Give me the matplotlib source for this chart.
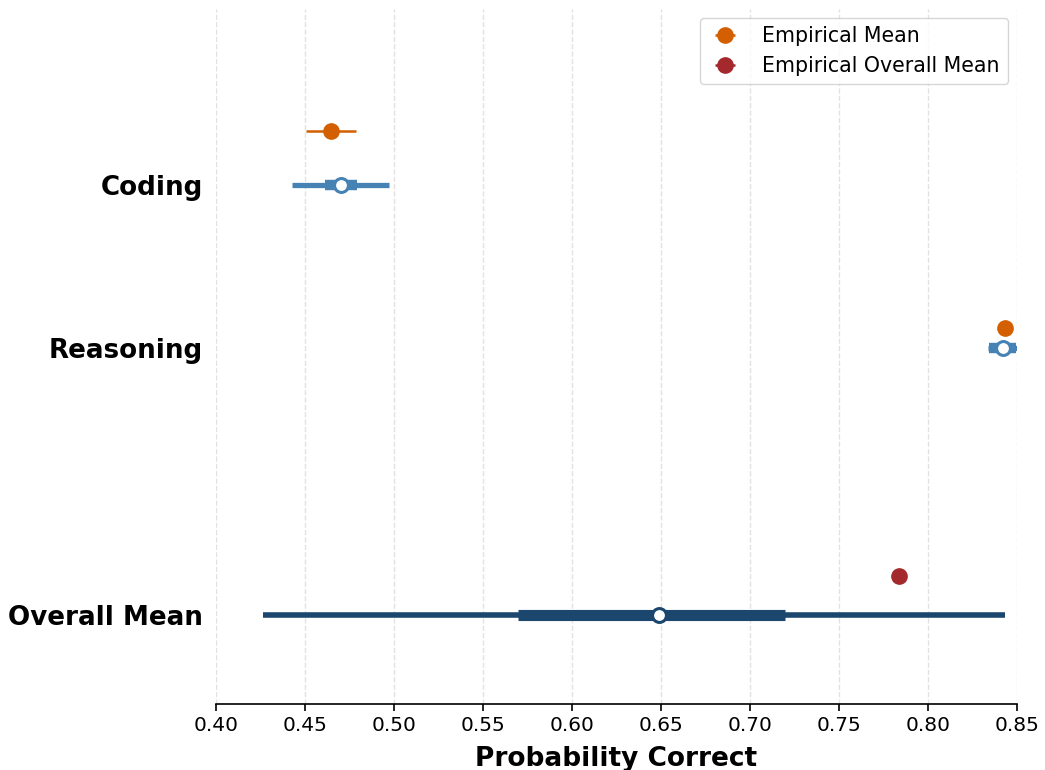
import matplotlib
matplotlib.use("Agg")
import matplotlib.pyplot as plt

# data
categories = ["Coding", "Reasoning"]
emp_mean = [0.4646, 0.8433]
emp_lo = [0.4506, 0.8433]
emp_hi = [0.4787, 0.8433]
post_mean = [0.4702, 0.8421]
post_q25 = [0.4612, 0.8345]
post_q75 = [0.4792, 0.8495]
post_lo = [0.4427, 0.8337]
post_hi = [0.4972, 0.8510]

overall_label = "Overall Mean"
overall_emp = 0.7837
overall_mean = 0.6489
overall_q25 = 0.5697
overall_q75 = 0.7197
overall_lo = 0.4264
overall_hi = 0.8433

row_y = [0.0, 1.0]
emp_y = [-0.331, 0.877]
overall_y = 2.638
overall_emp_y = 2.399

orange = "#d35f00"
red = "#a3292c"
blue = "#4682b4"
navy = "#1b476e"

fig = plt.figure(figsize=(10.45, 7.7), dpi=100)
ax = fig.add_axes([216 / 1045, 1 - 704 / 770, (1017 - 216) / 1045, (704 - 9) / 770])

for i in range(len(categories)):
    y = row_y[i]
    ax.plot([post_lo[i], post_hi[i]], [y, y], color=blue, lw=3.8, solid_capstyle="butt", zorder=2)
    ax.plot([post_q25[i], post_q75[i]], [y, y], color=blue, lw=7.5, solid_capstyle="butt", zorder=2)
    ax.plot(post_mean[i], y, "o", ms=10, mfc="white", mec=blue, mew=2.2, zorder=4)
    ax.errorbar(emp_mean[i], emp_y[i],
                xerr=[[emp_mean[i] - emp_lo[i]], [emp_hi[i] - emp_mean[i]]],
                fmt="o", color=orange, ms=11, lw=1.8, zorder=3,
                label="Empirical Mean" if i == 0 else None)

ax.plot([overall_lo, overall_hi], [overall_y, overall_y], color=navy, lw=4, solid_capstyle="butt", zorder=2)
ax.plot([overall_q25, overall_q75], [overall_y, overall_y], color=navy, lw=8, solid_capstyle="butt", zorder=2)
ax.plot(overall_mean, overall_y, "o", ms=10, mfc="white", mec=navy, mew=2.2, zorder=4)
ax.errorbar(overall_emp, overall_emp_y, xerr=[[0], [0]], fmt="o", color=red, ms=11,
            lw=1.8, zorder=3, label="Empirical Overall Mean")

ax.set_xlim(0.40, 0.85)
ax.set_ylim(3.184, -1.08)
ax.set_xticks([0.40, 0.45, 0.50, 0.55, 0.60, 0.65, 0.70, 0.75, 0.80, 0.85])
ax.set_xticklabels([f"{v:.2f}" for v in ax.get_xticks()], fontsize=14.5)
ax.set_yticks(row_y + [overall_y])
ax.set_yticklabels(categories + [overall_label], fontsize=18.8, fontweight="bold")
ax.tick_params(axis="y", length=0, pad=9.5)
ax.tick_params(axis="x", length=5, width=1.2)
ax.set_xlabel("Probability Correct", fontsize=19, fontweight="bold", labelpad=8)

ax.grid(axis="x", ls="--", color="#e2e2e2", lw=1)
ax.set_axisbelow(True)
for s in ["top", "right", "left"]:
    ax.spines[s].set_visible(False)
ax.spines["bottom"].set_linewidth(1.2)

ax.legend(loc="upper right", fontsize=14.8, frameon=True, borderpad=0.4,
          labelspacing=0.45, handlelength=1.6, handletextpad=1.0, borderaxespad=0.45)

fig.savefig("out.png", dpi=100)
